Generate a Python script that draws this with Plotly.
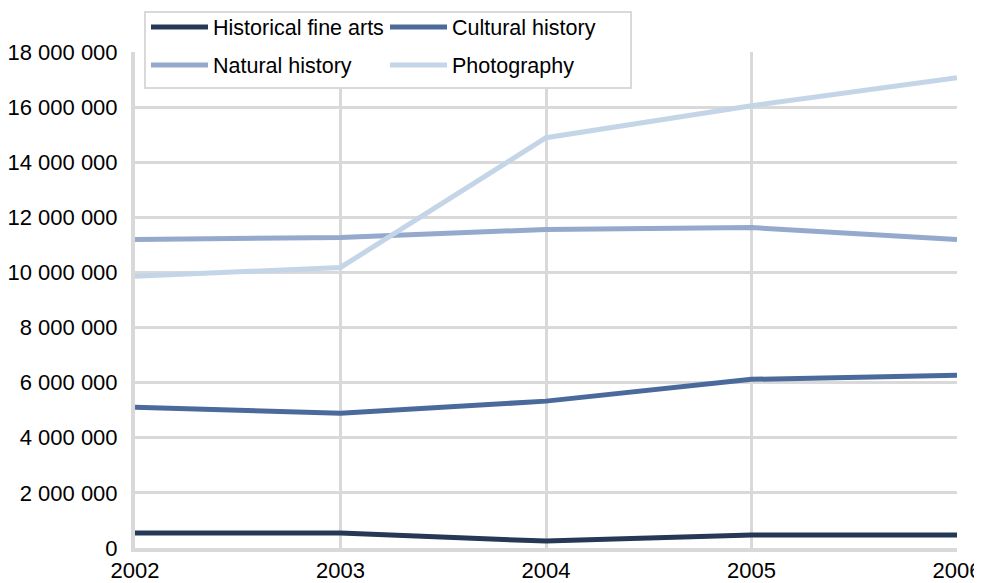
import plotly.graph_objects as go

years = [2002, 2003, 2004, 2005, 2006]
historical_fine_arts = [540000, 540000, 250000, 470000, 470000]
cultural_history = [5110000, 4890000, 5330000, 6120000, 6270000]
natural_history = [11200000, 11270000, 11560000, 11630000, 11200000]
photography = [9860000, 10180000, 14890000, 16050000, 17070000]
y_ticks = [0, 2000000, 4000000, 6000000, 8000000, 10000000, 12000000, 14000000, 16000000, 18000000]

series = [
    ("Historical fine arts", historical_fine_arts, "#253856", "legend"),
    ("Cultural history", cultural_history, "#4a6a9c", "legend"),
    ("Natural history", natural_history, "#95a9cc", "legend2"),
    ("Photography", photography, "#c5d5e8", "legend2"),
]

fig = go.Figure()
for name, vals, color, lg in series:
    fig.add_trace(go.Scatter(x=years, y=vals, mode="lines", name=name,
                             line=dict(color=color, width=5), legend=lg))

tick_font = dict(family="Liberation Sans, Arial, sans-serif", size=22, color="#000000")
leg_font = dict(family="Liberation Sans, Arial, sans-serif", size=21.5, color="#000000")
# page body has an 8px margin, so the figure is drawn 8px in from the window corner
W, H = 974, 575
ml, mr, mt, mb = 127, 25, 44, 35
pw, ph = W - ml - mr, H - mt - mb

def cx(x):
    return x / W

def cy(y):
    return 1 - y / H

leg_common = dict(orientation="h", xref="container", yref="container",
                  xanchor="left", yanchor="middle",
                  bgcolor="rgba(0,0,0,0)", borderwidth=0, entrywidthmode="pixels",
                  entrywidth=167, font=leg_font, itemwidth=57)

fig.update_layout(
    width=W, height=H,
    margin=dict(l=ml, r=mr, t=mt, b=mb, autoexpand=False),
    paper_bgcolor="white", plot_bgcolor="white",
    font=tick_font,
    separators=". ",
    xaxis=dict(range=[2002, 2006], tickvals=years, showgrid=True, gridcolor="#d9d9d9",
               gridwidth=3, showline=True, linecolor="#d9d9d9", linewidth=4,
               zeroline=False, ticks="", ticklabelstandoff=0, tickfont=tick_font,
               automargin=False),
    yaxis=dict(range=[0, 18000000], tickvals=y_ticks, tickformat=",.0f", showgrid=True,
               gridcolor="#d9d9d9", gridwidth=3, showline=True, linecolor="#d9d9d9",
               linewidth=4, zeroline=False, ticks="", ticklabelstandoff=9, tickfont=tick_font,
               automargin=False),
    legend=dict(leg_common, x=cx(138), y=cy(19)),
    legend2=dict(leg_common, x=cx(138), y=cy(57)),
    shapes=[dict(type="rect", xref="paper", yref="paper",
                 x0=(137 - ml) / pw, x1=(623 - ml) / pw,
                 y0=(H - mb - 80) / ph, y1=(H - mb - 4) / ph,
                 fillcolor="white", line=dict(color="#d9d9d9", width=2),
                 layer="above")],
    showlegend=True,
)

fig.write_html("out.html")
